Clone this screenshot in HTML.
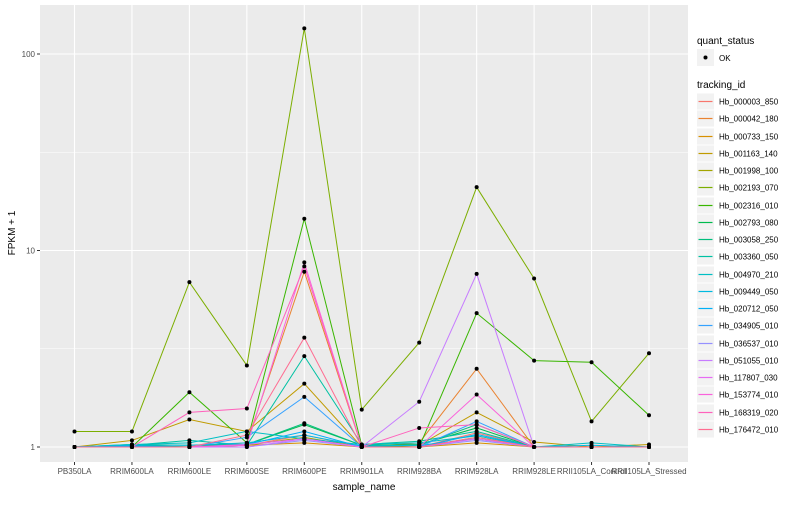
<!DOCTYPE html>
<html><head><meta charset="utf-8"><style>
body{margin:0;background:#fff;font-family:"Liberation Sans",sans-serif;}
svg text{font-family:"Liberation Sans",sans-serif;}
</style></head><body>
<svg id="chart" width="800" height="500" xmlns="http://www.w3.org/2000/svg">
<rect x="0" y="0" width="800" height="500" fill="#fff"/>
<rect x="40" y="5" width="648" height="457" fill="#EBEBEB"/>
<g id="grid"></g><g id="lines"></g><g id="pts"></g><g id="axes"></g><g id="legend"></g>
</svg>
<script>
const categories=["PB350LA","RRIM600LA","RRIM600LE","RRIM600SE","RRIM600PE","RRIM901LA","RRIM928BA","RRIM928LA","RRIM928LE","RRII105LA_Control","RRII105LA_Stressed"];
const seriesNames=["Hb_000003_850","Hb_000042_180","Hb_000733_150","Hb_001163_140","Hb_001998_100","Hb_002193_070","Hb_002316_010","Hb_002793_080","Hb_003058_250","Hb_003360_050","Hb_004970_210","Hb_009449_050","Hb_020712_050","Hb_034905_010","Hb_036537_010","Hb_051055_010","Hb_117807_030","Hb_153774_010","Hb_168319_020","Hb_176472_010"];
const colors=["#F8766D","#EA8331","#D89000","#C09B00","#A3A500","#7CAE00","#39B600","#00BB4E","#00BF7D","#00C1A3","#00BFC4","#00BAE0","#00B0F6","#35A2FF","#9590FF","#C77CFF","#E76BF3","#FA62DB","#FF62BC","#FF6C91"];
const s00=[1,1,1,1.02,1.15,1,1,1.18,1,1,1];
const s01=[1,1.02,1,1.05,7.8,1,1.05,2.5,1,1,1];
const s02=[1,1,1,1.02,1.05,1,1,1.05,1,1,1];
const s03=[1,1.08,1.38,1.2,2.1,1,1.02,1.5,1.06,1,1.03];
const s04=[1,1,1,1.02,1.12,1,1,1.12,1,1,1];
const s05=[1.2,1.2,6.9,2.6,135,1.55,3.4,21,7.2,1.35,3.0];
const s06=[1,1,1.9,1.05,14.5,1.02,1,4.8,2.75,2.7,1.45];
const s07=[1,1.02,1,1.03,1.3,1.02,1.03,1.25,1,1,1];
const s08=[1,1.03,1.02,1.03,1.32,1.02,1.02,1.3,1,1,1];
const s09=[1,1.02,1.08,1.02,2.9,1.03,1.07,1.2,1,1,1];
const s10=[1,1.03,1.05,1.2,1.1,1.03,1.05,1.14,1,1.05,1];
const s11=[1,1.02,1.02,1.05,1.15,1.01,1.02,1.1,1,1.02,1];
const s12=[1,1.01,1,1.03,1.2,1,1,1.16,1,1,1];
const s13=[1,1,1,1.12,1.8,1,1,1.35,1,1,1];
const s14=[1,1,1,1,1.08,1,1,1.08,1,1,1];
const s15=[1,1,1,1,1.1,1,1.7,7.6,1,1,1];
const s16=[1,1,1,1.03,1.1,1,1,1.1,1,1,1];
const s17=[1,1,1,1.02,8.7,1,1,1.85,1,1,1];
const s18=[1,1,1.5,1.57,8.3,1,1.25,1.3,1,1,1];
const s19=[1,1,1,1.15,3.6,1,1,1.12,1,1,1];
const seriesValues=[s00,s01,s02,s03,s04,s05,s06,s07,s08,s09,s10,s11,s12,s13,s14,s15,s16,s17,s18,s19];
const yTicks=[1,10,100];
const yTickLabels=["1","10","100"];
const NS="http://www.w3.org/2000/svg";
function xS(i){return 74.5+57.45*i;}
function yS(v){return 447-196.5*Math.log10(v);}
function mk(tag,attrs,parent,text){const e=document.createElementNS(NS,tag);for(const k in attrs)e.setAttribute(k,attrs[k]);if(text!==undefined)e.textContent=text;parent.appendChild(e);return e;}
const grid=document.getElementById('grid'),lines=document.getElementById('lines'),pts=document.getElementById('pts'),axes=document.getElementById('axes'),legend=document.getElementById('legend');
[Math.sqrt(10),Math.sqrt(1000)].forEach(v=>{const l=mk('line',{x1:40,x2:688,y1:yS(v),y2:yS(v),stroke:'#fff','stroke-width':0.5},grid);

});
yTicks.forEach((v,i)=>{const l=mk('line',{x1:40,x2:688,y1:yS(v),y2:yS(v),stroke:'#fff','stroke-width':1.1},grid);


mk('line',{x1:37,x2:40,y1:yS(v),y2:yS(v),stroke:'#333'},axes);
const t=mk('text',{x:35,y:yS(v)+3,'text-anchor':'end','font-size':8,fill:'#4d4d4d'},axes,yTickLabels[i]);

});
categories.forEach((c,i)=>{const l=mk('line',{x1:xS(i),x2:xS(i),y1:5,y2:462,stroke:'#fff','stroke-width':1.1},grid);


mk('line',{x1:xS(i),x2:xS(i),y1:462,y2:465,stroke:'#333'},axes);
const t=mk('text',{x:xS(i),y:474,'text-anchor':'middle','font-size':8,fill:'#4d4d4d'},axes,c);

});
seriesValues.forEach((vals,s)=>{const p=mk('polyline',{points:vals.map((v,i)=>xS(i)+','+yS(v)).join(' '),fill:'none',stroke:colors[s],'stroke-width':1},lines);


vals.forEach((v,i)=>{const c=mk('circle',{cx:xS(i),cy:yS(v),r:2,fill:'#000'},pts);

});});
let t=mk('text',{x:364,y:490,'text-anchor':'middle','font-size':10,fill:'#000'},axes,'sample_name');


t=mk('text',{x:15,y:233,'text-anchor':'middle','font-size':10,fill:'#000',transform:'rotate(-90 15 233)'},axes,'FPKM + 1');


t=mk('text',{x:697,y:44,'font-size':10,fill:'#000'},legend,'quant_status');


mk('rect',{x:697,y:49,width:17,height:17,fill:'#F2F2F2'},legend);
mk('circle',{cx:705.5,cy:57.5,r:2,fill:'#000'},legend);
t=mk('text',{x:719,y:61,'font-size':8,fill:'#000'},legend,'OK');


t=mk('text',{x:697,y:88,'font-size':10,fill:'#000'},legend,'tracking_id');


seriesNames.forEach((n,s)=>{const y=Math.round(101+17.26*s)+0.5;
mk('rect',{x:697,y:y-8,width:17,height:16,fill:'#F2F2F2'},legend);
mk('line',{x1:698.5,x2:712.5,y1:y,y2:y,stroke:colors[s],'stroke-width':1.2},legend);
const e=mk('text',{x:719,y:y+3,'font-size':8,fill:'#000'},legend,n);

});
</script>
</body></html>
